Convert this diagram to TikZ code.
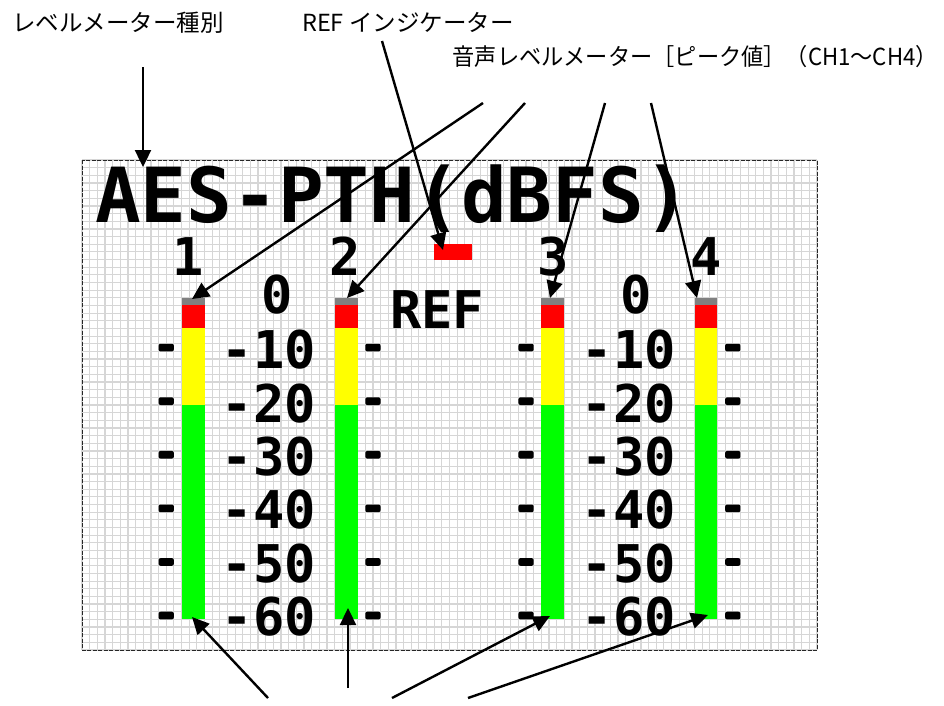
\documentclass[tikz,border=0pt]{standalone}
\usepackage{fontspec}
\usetikzlibrary{arrows.meta}
\newfontfamily\jpfont{Noto Sans CJK JP}
\newfontfamily\dotfont{DejaVu Sans Mono Bold}
\definecolor{gridgray}{RGB}{214,214,214}
\definecolor{lvred}{RGB}{255,0,0}
\definecolor{lvyellow}{RGB}{255,255,0}
\definecolor{lvgreen}{RGB}{0,255,0}
\definecolor{lvgray}{RGB}{128,128,128}
\begin{document}
\begin{tikzpicture}[x=1pt,y=-1pt,
  gridline/.style={gridgray,line width=1.2pt},
  frame/.style={draw=black!85,line width=0.9pt,dash pattern=on 4pt off 1.5pt},
  tickmark/.style={fill=black,rounded corners=2pt},
  callout/.style={line width=2.4pt,-{Triangle[length=17pt,width=16pt]}},
  jlabel/.style={font=\jpfont\fontsize{23.5}{28}\selectfont, inner sep=0pt},
  bigdot/.style={font=\dotfont\fontsize{76}{80}\selectfont, inner sep=0pt},
  middot/.style={font=\dotfont\fontsize{52}{56}\selectfont, inner sep=0pt},
]
\useasboundingbox (0,0) rectangle (944,705);
\def\c{7.65625}
% grid panel
\fill[white] (82,160) rectangle (817,650);
\foreach \i in {0,...,96} \draw[gridline] (82+\i*\c,160) -- ++(0,490);
\foreach \j in {0,...,64} \draw[gridline] (82,160+\j*\c) -- ++(735,0);
\draw[frame] (82,160) rectangle (817,650);

% level bars
\foreach \bx in {13,33,60,80} {
  \fill[lvgray]   (82+\bx*\c,160+18*\c) rectangle (82+\bx*\c+3*\c,160+19*\c);
  \fill[lvred]    (82+\bx*\c,160+19*\c) rectangle (82+\bx*\c+3*\c,160+22*\c);
  \fill[lvyellow] (82+\bx*\c,160+22*\c) rectangle (82+\bx*\c+3*\c,160+32*\c);
  \fill[lvgreen]  (82+\bx*\c,160+32*\c) rectangle (82+\bx*\c+3*\c,160+60*\c);
}
% REF indicator
\fill[lvred] (82+46*\c,160+11*\c) rectangle (82+51*\c,160+13*\c);

% tick marks
\foreach \tx in {10,37,57,84}
  \foreach \ty in {24,31,38,45,52,59}
    \fill[tickmark] (82+\tx*\c,160+\ty*\c) rectangle (82+\tx*\c+2*\c,160+\ty*\c+\c);

% dot-matrix texts
\node[bigdot,anchor=base west] (title) at (95,222) {AES-PTH(dBFS)};
\node[middot,anchor=base] (ch1) at (188.5,275) {1};
\node[middot,anchor=base] (ch2) at (345.5,275) {2};
\node[middot,anchor=base] (ch3) at (553.5,275) {3};
\node[middot,anchor=base] (ch4) at (706.5,275) {4};
\node[middot,anchor=base] (zeroA) at (277.5,313) {0};
\node[middot,anchor=base] (zeroB) at (636.5,313) {0};
\node[middot,anchor=base west] (ref) at (390,328) {REF};
\foreach \v/\b [count=\k] in {10/368,20/422,30/475,40/528,50/582,60/635} {
  \node[middot,anchor=base east] (sa\k) at (316,\b) {-\v};
  \node[middot,anchor=base east] (sb\k) at (676,\b) {-\v};
}

% annotation labels
\node[jlabel,anchor=base west] (kind) at (12,31.5) {レベルメーター種別};
\node[jlabel,anchor=base west] (refl) at (302,31.5) {REF インジケーター};
\node[jlabel,anchor=base east] (peak) at (938,65) {\scalebox{0.945}[1]{音声レベルメーター［ピーク値］（CH1～CH4）}};

% connector end points
\coordinate (kindS) at (143,67);   \coordinate (kindT) at (143,167);
\coordinate (refS)  at (382,41);   \coordinate (refT)  at (443,250);
\coordinate (p1S) at (483,103);    \coordinate (p1T) at (192,299);
\coordinate (p2S) at (525,103);    \coordinate (p2T) at (347,298);
\coordinate (p3S) at (605,103);    \coordinate (p3T) at (550,298);
\coordinate (p4S) at (651,103);    \coordinate (p4T) at (697,298);
\coordinate (b1S) at (268,698);    \coordinate (b1T) at (192,617);
\coordinate (b2S) at (348,688);    \coordinate (b2T) at (348,608);
\coordinate (b3S) at (392,698);    \coordinate (b3T) at (550,616);
\coordinate (b4S) at (468,698);    \coordinate (b4T) at (708,615);

\foreach \s/\t in {kindS/kindT,refS/refT,p1S/p1T,p2S/p2T,p3S/p3T,p4S/p4T,b1S/b1T,b2S/b2T,b3S/b3T,b4S/b4T}
  \draw[callout] (\s) -- (\t);
\end{tikzpicture}
\end{document}
